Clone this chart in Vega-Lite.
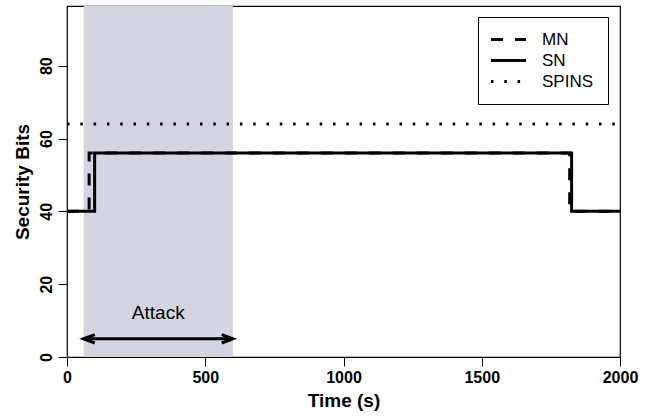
{
  "$schema": "https://vega.github.io/schema/vega-lite/v6.json",
  "width": 553,
  "height": 351,
  "autosize": {"type": "none"},
  "padding": {"left": 67, "top": 6, "right": 29, "bottom": 60},
  "background": "white",
  "config": {
    "font": "Liberation Sans",
    "view": {"stroke": "black", "strokeWidth": 1.2},
    "axis": {
      "grid": false,
      "domain": false,
      "tickColor": "black",
      "tickSize": 9,
      "tickWidth": 1,
      "labelFlush": false,
      "labelColor": "black",
      "labelFont": "Liberation Sans",
      "labelFontWeight": "bold",
      "labelFontSize": 16,
      "titleFont": "Liberation Sans",
      "titleFontWeight": "bold",
      "titleFontSize": 19,
      "titleColor": "black"
    }
  },
  "datasets": {
    "lines": [
      {"series": "MN", "t": 0, "bits": 40},
      {"series": "MN", "t": 80, "bits": 56},
      {"series": "MN", "t": 1818, "bits": 40},
      {"series": "MN", "t": 2000, "bits": 40},
      {"series": "SN", "t": 0, "bits": 40},
      {"series": "SN", "t": 100, "bits": 56},
      {"series": "SN", "t": 1825, "bits": 40},
      {"series": "SN", "t": 2000, "bits": 40},
      {"series": "SPINS", "t": 0, "bits": 64},
      {"series": "SPINS", "t": 2000, "bits": 64}
    ],
    "attack": [{"t": 60, "t2": 600, "bits": 5}],
    "headR": [{"t": 600, "bits": 5}],
    "headL": [{"t": 60, "bits": 5}],
    "label": [{"t": 330, "bits": 12, "label": "Attack"}]
  },
  "encoding": {
    "x": {
      "field": "t",
      "type": "quantitative",
      "scale": {"domain": [0, 2000], "nice": false, "zero": false},
      "axis": {"values": [0, 500, 1000, 1500, 2000], "format": "d", "title": "Time (s)", "labelPadding": 3, "titlePadding": 6}
    },
    "y": {
      "field": "bits",
      "type": "quantitative",
      "scale": {"domain": [0, 96.4], "nice": false},
      "axis": {
        "values": [0, 20, 40, 60, 80],
        "format": "d",
        "title": "Security Bits",
        "labelAngle": 270,
        "labelAlign": "center",
        "labelBaseline": "bottom",
        "labelPadding": 4,
        "titlePadding": 6
      }
    }
  },
  "layer": [
    {
      "data": {"name": "attack"},
      "mark": {"type": "rect", "color": "#d5d5e1"},
      "encoding": {
        "x2": {"field": "t2"},
        "y": {"datum": 0, "type": "quantitative"},
        "y2": {"datum": 96.4}
      }
    },
    {
      "data": {"name": "lines"},
      "mark": {"type": "line", "interpolate": "step-after", "strokeCap": "butt", "color": "black", "strokeWidth": 3},
      "encoding": {
        "strokeDash": {
          "field": "series",
          "type": "nominal",
          "scale": {"domain": ["MN", "SN", "SPINS"], "range": [[12, 12], [1, 0], [2.5, 10.8]]},
          "legend": {
            "orient": "none",
            "legendX": 411,
            "legendY": 11,
            "title": null,
            "symbolType": "M-2.5,0H2.5",
            "symbolSize": 196,
            "symbolStrokeWidth": 3,
            "symbolStrokeColor": "black",
            "symbolOffset": 8,
            "labelFontSize": 17,
            "labelFont": "Liberation Sans",
            "labelFontWeight": "normal",
            "labelColor": "black",
            "labelOffset": 25,
            "padding": 14,
            "rowPadding": 3,
            "strokeColor": "black",
            "fillColor": "white",
            "cornerRadius": 0
          }
        }
      }
    },
    {
      "data": {"name": "attack"},
      "mark": {"type": "rule", "color": "black", "strokeWidth": 3},
      "encoding": {"x2": {"field": "t2"}}
    },
    {
      "data": {"name": "headR"},
      "mark": {"type": "point", "shape": "M-1.6,-0.6L0,0L-1.6,0.6", "filled": false, "stroke": "black", "strokeWidth": 3, "size": 196, "opacity": 1},
      "encoding": {}
    },
    {
      "data": {"name": "headL"},
      "mark": {"type": "point", "shape": "M1.6,-0.6L0,0L1.6,0.6", "filled": false, "stroke": "black", "strokeWidth": 3, "size": 196, "opacity": 1},
      "encoding": {}
    },
    {
      "data": {"name": "label"},
      "mark": {"type": "text", "fontSize": 19, "font": "Liberation Sans", "color": "black", "baseline": "middle"},
      "encoding": {"text": {"field": "label", "type": "nominal"}}
    }
  ]
}
